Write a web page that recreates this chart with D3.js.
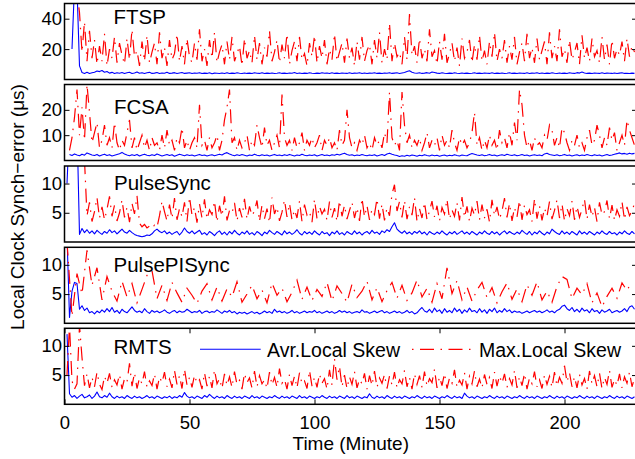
<!DOCTYPE html>
<html><head><meta charset="utf-8">
<script src="https://cdn.jsdelivr.net/npm/d3@7"></script>
<style>body{margin:0;background:#fff}svg{display:block}text{font-family:"Liberation Sans",Arial,sans-serif;fill:#000}</style>
</head><body><svg id="c" width="635" height="459"></svg>
<script>
// ---------- data (µs), one value per step minutes starting at the given start minute ----------
const panelNames = ["FTSP","FCSA","PulseSync","PulsePISync","RMTS"];
const xTicks = [0,50,100,150,200];
const yTicksPerPanel = [[20,40],[10,20],[5,10],[5,10],[5,10]];
const yMaxPerPanel = [50,30,13,13,13];
const legendLabels = ["Avr.Local Skew","Max.Local Skew"];

const ftspAvrStart = 3, ftspMaxStart = 4;
const ftspAvr = [20,62,60,9,4.6,4.0,4.7,3.9,4.4,4.8,
5.6,5.2,5.9,4.8,5.3,4.2,4.7,4.0,4.5,4.1,
4.6,3.9,4.4,4.8,4.0,4.3,5.0,4.1,4.5,3.9,
4.4,4.7,4.0,4.2,4.6,3.9,4.3,4.1,4.8,4.0,
4.2,4.5,3.9,4.3,4.6,4.0,4.2,4.4,3.9,4.3,
4.1,4.5,3.9,4.2,4.0,4.4,3.8,4.2,4.1,3.9,
4.3,4.0,4.5,3.9,4.2,4.0,4.4,4.1,3.9,4.3,
4.0,4.2,3.9,4.4,4.1,4.0,4.5,3.9,4.2,4.0,
4.3,3.9,4.1,4.4,4.0,4.2,3.9,4.3,4.1,4.6,
4.0,4.3,3.9,4.2,4.0,4.4,4.1,3.9,4.2,4.0,
4.5,4.1,4.3,3.9,4.4,4.0,4.2,3.9,4.3,4.1,
4.0,4.4,3.9,4.2,4.1,4.5,4.0,4.3,3.9,4.2,
4.1,4.4,4.0,4.2,3.9,4.3,4.1,4.5,4.0,4.2,
4.4,4.0,4.3,4.6,5.2,5.7,4.8,4.3,4.1,4.4,
4.0,4.2,4.5,4.1,4.9,4.6,4.2,4.0,4.4,4.1,
3.9,4.2,4.0,4.4,4.1,3.9,4.3,4.0,4.2,3.9,
4.1,4.4,4.0,4.2,3.9,4.3,4.1,4.0,4.4,3.9,
4.2,4.0,4.3,3.9,4.1,4.4,4.0,4.2,3.9,4.3,
4.1,4.0,4.4,3.9,4.2,4.1,4.5,4.0,4.3,3.9,
4.2,4.0,4.4,4.1,3.9,4.3,4.0,4.2,3.9,4.4,
4.1,4.0,4.5,4.2,4.9,4.3,4.0,4.2,3.9,4.3,
4.1,4.0,4.4,3.9,4.2,4.1,4.0,4.3,3.9,4.2,
4.4,4.0,4.1,3.9,4.2,4.0];
const ftspMax = [50,58,44,18,38,12,32,14,26,10,
22,12,30,9,20,14,28,11,24,16,
10,27,13,33,15,19,9,25,12,29,
11,18,24,10,31,14,21,9,26,13,
17,30,12,22,10,27,15,11,24,13,
33,12,20,9,26,14,31,11,18,23,
10,25,13,28,12,17,22,9,27,14,
19,11,29,13,24,10,21,15,32,12,
18,26,11,23,14,30,10,19,25,12,
28,13,17,9,24,15,29,11,22,14,
26,10,20,13,30,12,18,24,11,27,
14,21,9,25,13,28,12,19,23,10,
26,14,31,11,20,13,37,12,24,15,
18,10,28,13,43,16,22,11,27,14,
20,12,33,15,19,10,25,13,30,11,
17,24,12,21,9,27,14,18,26,11,
23,13,29,12,19,10,25,15,31,12,
20,14,26,11,22,13,28,10,18,24,
12,30,14,21,11,27,13,19,25,10,
31,14,22,12,33,15,20,11,26,13,
18,24,10,29,14,21,12,27,15,19,
11,28,13,23,10,26,14,20,16,25,
12,27,15,22,18];

const fcsaAvrStart = 2, fcsaMaxStart = 2;
const fcsaAvr = [2.4,2.0,2.6,2.2,1.9,2.5,2.1,3.0,2.6,2.2,
2.0,2.4,1.8,2.2,2.5,2.0,2.3,1.8,2.1,2.4,
2.7,3.2,2.6,2.2,1.9,2.3,2.0,2.4,1.8,2.2,
2.5,2.1,1.9,2.3,2.0,2.6,2.2,1.8,2.1,2.4,
2.0,2.3,1.7,2.1,2.5,2.2,1.9,2.3,2.0,2.2,
1.8,2.1,2.4,2.0,2.2,1.8,2.1,2.3,1.9,2.2,
2.5,2.2,2.8,3.1,2.6,2.2,1.9,2.3,2.0,2.4,
2.1,1.8,2.2,2.0,2.5,2.1,1.9,2.3,2.0,2.2,
1.8,2.1,2.4,2.0,2.2,1.9,2.3,2.0,2.4,2.1,
1.8,2.2,2.0,2.5,2.1,1.9,2.2,2.0,2.3,1.8,
2.1,2.4,2.0,2.2,1.9,2.3,2.1,2.5,2.2,2.6,
2.9,2.4,2.1,2.3,1.9,2.2,2.0,2.4,2.1,1.9,
2.2,2.0,2.3,1.8,2.1,2.4,2.0,2.6,2.9,2.5,
2.2,2.0,1.6,1.9,1.7,2.1,1.8,2.2,2.0,1.7,
2.1,1.9,2.3,2.0,1.8,2.2,1.9,2.1,1.7,2.0,
2.2,1.8,2.1,1.9,2.3,2.0,1.8,2.2,2.0,1.9,
2.4,2.8,2.5,2.2,2.0,2.3,1.9,2.1,2.4,2.0,
2.2,1.8,2.1,2.3,2.0,2.5,2.2,2.0,2.3,1.9,
2.1,2.4,2.0,2.2,1.8,2.1,2.3,2.0,2.2,1.9,
2.6,2.9,2.4,2.2,2.0,2.3,1.9,2.1,2.4,2.0,
2.2,1.8,2.1,2.3,1.9,2.2,2.0,2.4,2.1,1.9,
2.3,2.0,2.2,1.8,2.1,2.4,2.0,2.2,2.5,2.7,
3.0,2.6,2.8,2.5,2.9,2.6,2.8];
const fcsaMax = [4,9,17,28,10,21,8,30,19,7,
11,15,5,8,14,6,9,5,15,7,
4,8,6,11,16,5,9,4,7,10,
5,8,4,9,6,7,4,10,5,12,
6,8,4,9,7,13,5,8,4,7,
9,5,22,6,8,4,9,5,7,10,
4,8,16,21,28,7,9,4,8,5,
7,10,4,8,6,14,9,5,13,6,
8,4,7,10,5,26,9,6,8,4,
9,5,7,11,4,8,6,9,5,7,
10,4,8,6,9,5,7,4,12,6,
8,20,9,5,7,4,8,6,10,5,
7,4,9,6,8,5,11,7,27,9,
6,8,4,27,14,7,10,5,8,6,
9,4,7,11,5,8,6,9,4,10,
6,8,5,12,7,4,9,6,8,5,
7,11,19,6,9,4,8,5,10,6,
8,4,12,7,9,5,11,6,15,8,
28,22,10,5,8,4,9,6,7,5,
10,8,14,12,6,9,5,13,11,7,
4,8,6,10,5,7,4,9,12,6,
8,14,10,5,9,6,13,8,11,4,
7,10,6,16,12,9,6];

const psAvrStart = 1, psMaxStart = 8;
const psAvr = [10,20,20,20,20,1.3,2.3,1.6,2.1,1.5,
1.9,1.4,2.0,1.6,1.3,1.8,1.5,2.1,1.6,1.9,
1.4,1.8,2.2,1.7,1.5,2.0,1.6,1.3,1.1,1.0,
0.9,1.0,1.2,1.1,1.4,1.9,2.2,1.8,1.6,1.9,
1.4,1.7,1.3,1.6,1.8,1.2,1.7,2.4,1.8,1.5,
1.9,1.4,1.7,2.0,1.3,1.6,1.2,1.8,1.5,1.1,
1.6,1.9,1.3,1.7,1.2,1.8,1.4,2.0,1.5,1.2,
1.7,1.4,1.9,1.3,1.6,1.2,1.8,1.5,1.1,1.7,
1.4,2.0,1.6,1.3,1.8,1.5,1.2,1.9,1.4,1.7,
1.3,1.6,2.1,1.5,1.2,1.8,1.4,1.7,1.3,1.9,
1.5,1.2,1.8,1.4,1.6,1.1,1.7,1.4,1.9,1.3,
1.6,1.2,1.8,1.5,1.3,1.9,1.4,1.7,1.2,1.6,
1.8,1.4,2.0,1.5,1.7,1.3,1.9,1.6,2.1,1.8,
2.6,3.3,2.2,1.8,1.5,1.9,1.4,1.7,1.3,1.8,
1.5,1.9,1.4,1.7,1.2,1.8,1.5,1.3,1.7,1.4,
1.9,1.5,1.2,1.7,1.4,1.8,1.3,1.6,1.9,1.4,
1.7,1.3,1.8,1.5,1.2,1.7,1.4,1.9,1.5,1.3,
1.8,1.4,1.7,1.2,1.6,1.9,1.4,1.8,1.5,1.3,
1.7,1.4,2.0,1.6,1.3,1.8,1.2,1.7,1.4,1.9,
1.5,1.2,1.7,1.4,2.2,1.8,1.5,1.3,1.9,1.4,
1.7,1.3,1.8,1.5,1.2,1.9,1.4,1.7,1.3,1.8,
1.5,1.2,1.7,1.4,1.9,1.5,1.3,1.8,1.4,1.6,
1.2,1.7,1.4,1.9,1.5,1.3,1.8,1.4];
const psMax = [14,4.5,6.8,3.5,5.2,7.6,4.1,6.0,3.8,5.6,
7.8,4.4,6.3,3.6,5.0,7.2,4.2,5.9,3.4,6.6,
4.8,7.9,3.2,2.6,3.0,2.4,2.7,2.3,2.9,2.5,
4.5,7.0,5.2,3.6,6.4,4.0,7.5,3.8,5.7,4.3,
6.8,3.5,7.7,4.6,5.9,3.3,6.5,4.1,7.3,3.9,
5.5,4.7,7.0,3.4,6.2,4.4,7.8,3.7,5.4,4.9,
6.7,3.6,5.8,4.2,7.4,3.9,6.1,4.5,5.3,7.1,
3.5,6.3,4.0,5.7,3.3,7.6,4.8,6.0,3.6,5.1,
7.2,4.3,6.6,3.8,5.5,4.1,7.0,3.5,6.4,4.6,
5.2,3.4,7.3,4.0,6.1,4.8,5.6,3.7,6.9,4.2,
5.8,3.5,7.1,4.4,6.3,3.9,5.4,6.8,4.1,5.9,
3.6,7.5,4.3,6.2,3.8,5.6,4.7,7.4,4.0,6.5,
3.7,5.8,4.5,8.2,9.8,5.3,6.9,4.2,7.1,3.9,
6.0,4.6,7.6,3.5,5.7,4.1,6.8,3.8,5.3,7.0,
4.3,6.2,3.6,5.9,4.8,7.3,3.9,5.5,4.4,6.7,
3.7,7.7,4.2,6.1,3.5,5.8,4.6,7.0,3.8,6.4,
4.1,5.6,3.4,7.2,4.5,6.0,3.9,5.3,7.5,4.2,
6.6,3.6,5.9,4.3,7.1,3.8,6.3,4.7,5.5,3.5,
7.4,4.0,6.2,3.7,5.8,4.4,6.9,3.9,5.4,7.2,
4.1,6.5,3.6,5.7,4.5,7.0,3.8,6.1,4.2,5.6,
7.3,3.9,6.4,4.3,5.9,3.5,6.8,4.6,5.2,7.1,
4.0,6.3,3.7,5.5,4.4,6.9,3.8,6.0,4.5,5.3,
6.6];

const ppiAvrStart = 1, ppiMaxStart = 1;
const ppiAvr = [15,1.0,5.5,7.0,6.8,2.4,3.0,2.2,2.6,1.8,
2.0,1.6,2.1,1.8,2.3,1.9,2.5,2.0,2.7,1.9,
2.2,1.7,2.4,2.0,1.8,2.3,2.8,2.2,1.9,2.1,
1.8,2.5,2.0,1.7,2.2,1.9,2.1,1.8,2.0,2.3,
1.9,1.7,2.0,2.2,1.8,2.1,1.9,2.0,2.4,2.1,
1.8,2.0,1.9,2.2,1.7,2.0,2.1,1.8,2.0,1.9,
2.3,2.0,1.7,2.1,1.9,2.2,1.8,2.0,1.6,1.9,
1.7,1.9,1.6,1.8,2.0,1.7,1.9,1.6,1.8,2.1,
1.8,2.0,1.7,2.4,1.9,2.1,1.8,2.0,1.7,1.9,
2.2,1.8,2.0,1.7,1.9,2.1,1.8,2.0,1.9,2.2,
1.8,2.0,1.7,1.9,2.1,1.8,2.0,1.7,1.9,2.2,
1.9,2.1,1.8,2.0,1.7,1.9,2.0,1.8,2.3,1.9,
2.0,1.7,1.9,2.1,1.8,2.0,2.2,1.8,2.0,1.7,
1.9,2.1,1.8,2.0,1.7,1.9,2.2,1.8,2.0,1.6,
1.8,2.3,2.7,2.1,1.9,2.4,1.8,2.6,2.0,2.3,
1.7,2.5,1.9,2.2,1.8,2.6,2.0,2.4,1.7,2.3,
1.9,2.6,2.0,2.2,1.8,2.5,1.9,2.3,1.7,2.4,
2.0,2.6,1.8,2.2,1.9,2.5,2.0,2.3,1.8,2.1,
1.9,2.0,1.7,1.9,2.1,1.8,2.0,2.2,1.9,2.1,
1.8,2.0,2.3,1.9,2.1,1.8,2.2,2.4,2.9,3.1,
2.5,2.2,2.7,2.0,2.4,1.9,2.6,2.1,2.3,1.8,
2.5,2.0,2.2,1.7,2.3,1.9,2.1,2.4,1.8,2.0,
2.2,1.9,2.1,2.5,2.0,2.8,3.0,2.4];
const ppiMaxStep = 2;
const ppiMax = [14,1.2,8.5,5.0,12.5,6.5,9.5,4.0,8.0,5.5,
3.8,7.2,4.5,6.8,3.5,5.8,8.2,9.0,4.2,6.5,
3.9,7.0,5.2,3.6,6.0,4.8,3.4,5.5,6.8,4.0,
6.2,3.8,5.9,4.5,7.1,3.6,5.0,6.5,4.2,5.7,
3.5,6.9,4.8,6.0,3.7,5.3,7.4,4.1,6.2,3.9,
5.8,4.6,7.0,3.8,6.4,5.1,3.6,6.7,4.4,5.5,
7.2,4.0,6.1,3.7,5.6,7.0,4.3,6.5,3.9,5.2,
7.4,4.5,6.0,3.6,6.8,4.2,9.5,5.1,7.3,4.0,
6.2,3.8,5.7,7.0,4.4,6.1,3.5,5.4,6.9,4.1,
5.9,3.7,6.6,4.8,7.1,4.0,5.5,3.6,6.3,8.0,
7.5,4.2,6.0,4.9,6.8,3.5,5.2,2.8,4.6,6.0,
4.3,6.9,5.6,7.2];

const rmtsAvrStart = 1, rmtsMaxStart = 1;
const rmtsAvr = [12,1.8,1.2,1.5,1.0,1.4,1.7,1.1,1.3,1.6,
1.0,1.4,2.1,1.3,1.1,1.5,1.2,1.9,1.3,1.0,
1.4,1.1,1.3,1.0,1.5,1.2,1.0,1.4,1.1,1.3,
1.0,1.2,1.5,1.1,1.3,1.0,1.4,1.2,1.0,1.3,
1.1,1.4,1.0,1.3,1.1,1.5,1.2,2.0,1.4,1.1,
1.3,1.0,1.4,1.2,1.0,1.5,1.2,1.7,1.3,1.0,
1.4,1.1,1.3,1.0,1.5,1.2,1.0,1.4,1.1,1.3,
1.0,1.4,1.2,1.0,1.5,1.1,1.3,1.0,1.4,1.2,
1.0,1.3,1.1,1.5,1.2,1.0,1.4,1.1,1.3,1.0,
1.4,1.2,1.0,1.5,1.1,1.3,1.0,1.4,1.2,1.0,
1.3,1.1,1.5,1.2,1.0,1.4,1.1,1.3,1.0,1.4,
1.2,1.0,1.5,1.1,1.3,1.0,1.4,1.2,1.0,1.3,
1.1,1.8,1.2,1.0,1.4,1.1,1.3,1.0,1.5,1.2,
1.0,1.4,1.1,1.3,1.0,1.4,1.2,1.0,1.3,1.1,
1.5,1.2,1.0,1.4,1.1,1.3,1.0,1.4,1.2,1.0,
1.3,1.1,1.5,1.2,1.0,1.4,1.1,1.3,1.0,1.9,
1.4,1.1,1.3,1.0,1.4,1.2,1.0,1.3,1.1,1.5,
1.2,1.0,1.4,1.1,1.3,1.0,1.4,1.2,1.0,1.3,
1.1,1.5,1.2,1.0,1.4,1.1,1.3,1.0,1.4,1.2,
1.0,1.3,1.1,1.5,1.2,1.0,1.4,1.1,1.3,1.0,
1.4,1.2,1.0,1.3,1.1,1.5,1.2,1.0,1.4,1.1,
1.3,1.0,1.4,1.2,1.0,1.3,1.1,1.5,1.2,1.0,
1.4,1.1,1.3,1.0,1.4,1.2,1.0,1.3];
const rmtsMax = [5.0,13.5,4.0,2.6,3.5,13.5,8.0,3.2,5.2,2.8,
4.6,3.0,5.5,3.4,2.5,4.8,3.6,5.3,2.9,4.2,
3.3,5.1,2.6,4.4,3.8,7.0,3.1,5.4,2.7,4.5,
3.5,5.6,2.9,4.0,3.2,5.2,2.6,4.7,3.7,5.5,
3.0,4.3,2.8,5.8,3.4,4.9,2.7,6.0,3.3,4.6,
2.9,5.0,3.6,4.2,2.6,5.4,3.1,4.8,2.8,5.9,
3.5,4.4,2.7,5.2,3.2,4.7,2.9,5.6,3.4,4.1,
2.6,5.3,3.7,4.5,2.8,5.7,3.0,4.9,3.5,4.2,
2.7,5.5,3.3,4.6,2.9,6.1,3.6,4.3,2.6,5.1,
3.2,4.8,2.8,5.4,3.5,4.0,2.7,5.8,3.1,4.6,
2.9,5.2,3.6,4.4,2.6,5.9,3.3,7.8,4.2,6.5,
3.0,5.0,2.7,4.7,3.4,5.6,2.8,4.3,3.5,5.3,
2.6,4.9,3.2,5.7,2.9,4.5,3.6,5.1,2.7,4.8,
3.3,5.5,2.8,4.2,3.5,5.8,3.0,4.6,2.6,5.2,
3.4,4.9,2.9,5.6,3.1,4.4,3.7,6.0,2.8,4.7,
3.2,5.3,2.7,4.5,3.6,5.9,2.9,4.1,3.3,5.4,
2.6,4.8,3.5,5.7,3.0,4.3,2.8,5.1,3.4,4.6,
2.7,5.5,3.1,4.9,3.6,5.2,2.9,4.4,3.3,5.8,
2.8,4.7,3.2,5.3,2.6,4.5,3.5,5.6,3.0,4.2,
2.7,5.0,3.4,4.8,2.9,5.5,3.1,4.6,3.6,6.6,
3.8,5.4,3.0,4.7,2.8,5.1,3.3,4.4,2.6,5.7,
3.5,4.9,3.0,5.3,2.7,4.6,3.4,5.8,2.9,4.3,
3.2,5.2,2.8,4.7,3.6,5.5,3.0,4.5];

// ---------- table built from the arrays ----------
const series = [
  {avr: ftspAvr, avrStart: ftspAvrStart, avrStep: 1, max: ftspMax, maxStart: ftspMaxStart, maxStep: 1},
  {avr: fcsaAvr, avrStart: fcsaAvrStart, avrStep: 1, max: fcsaMax, maxStart: fcsaMaxStart, maxStep: 1},
  {avr: psAvr, avrStart: psAvrStart, avrStep: 1, max: psMax, maxStart: psMaxStart, maxStep: 1},
  {avr: ppiAvr, avrStart: ppiAvrStart, avrStep: 1, max: ppiMax, maxStart: ppiMaxStart, maxStep: ppiMaxStep},
  {avr: rmtsAvr, avrStart: rmtsAvrStart, avrStep: 1, max: rmtsMax, maxStart: rmtsMaxStart, maxStep: 1}
];

// ---------- layout ----------
const svg = d3.select("#c");
const xLeft = 64.5, xRight = 637;
const panelTops = [3.5, 84.5, 166, 247.3, 328.3];
const panelH = 76;
const labelPos = [[113.5,23.5],[114,113.5],[114,189.5],[113.5,271.5],[113.5,353.5]];
const FONT = '"Liberation Sans", Arial, sans-serif';
const BLUE = "#0000ff", RED = "#ff0000";
const DASH = "14,6.5,1.5,6.5";

const x = d3.scaleLinear().domain([0, 229]).range([xLeft, xRight]);
const defs = svg.append("defs");

series.forEach((s, i) => {
  const top = panelTops[i], bot = top + panelH;
  const y = d3.scaleLinear().domain([0, yMaxPerPanel[i]]).range([bot, top]);
  const g = svg.append("g");
  const clipId = "clip" + i;
  defs.append("clipPath").attr("id", clipId).append("rect")
    .attr("x", xLeft).attr("y", top).attr("width", xRight - xLeft).attr("height", panelH);

  const line = d3.line().x(d => x(d[0])).y(d => y(d[1]));
  const avrPts = s.avr.map((v, k) => [s.avrStart + k * s.avrStep, v]);
  const maxPts = s.max.map((v, k) => [s.maxStart + k * s.maxStep, v]);

  const data = g.append("g").attr("clip-path", `url(#${clipId})`);
  data.append("path").attr("d", line(avrPts)).attr("fill", "none")
    .attr("stroke", BLUE).attr("stroke-width", 1.1).attr("stroke-linejoin", "round");
  data.append("path").attr("d", line(maxPts)).attr("fill", "none")
    .attr("stroke", RED).attr("stroke-width", 1.2).attr("stroke-dasharray", DASH);

  // left axis (ticks inside)
  const yl = g.append("g").attr("transform", `translate(${xLeft},0)`)
    .call(d3.axisLeft(y).tickValues(yTicksPerPanel[i]).tickSize(-5).tickPadding(2.5));
  yl.select(".domain").remove();
  yl.selectAll("line").attr("stroke", "#000").attr("stroke-width", 1);
  yl.selectAll("text").attr("font-family", FONT).attr("font-size", 18.5).attr("fill", "#000");
  // right axis
  const yr = g.append("g").attr("transform", `translate(${xRight},0)`)
    .call(d3.axisRight(y).tickValues(yTicksPerPanel[i]).tickSize(-5).tickFormat(""));
  yr.select(".domain").remove();
  yr.selectAll("line").attr("stroke", "#000");

  if (i === series.length - 1) {
    const xb = g.append("g").attr("transform", `translate(0,${bot})`)
      .call(d3.axisBottom(x).tickValues(xTicks).tickSize(-5).tickPadding(12));
    xb.select(".domain").remove();
    xb.selectAll("line").attr("stroke", "#000");
    xb.selectAll("text").attr("font-family", FONT).attr("font-size", 18.5).attr("fill", "#000");
    const xt = g.append("g").attr("transform", `translate(0,${top})`)
      .call(d3.axisTop(x).tickValues(xTicks).tickSize(-5).tickFormat(""));
    xt.select(".domain").remove();
    xt.selectAll("line").attr("stroke", "#000");
  }

  g.append("rect").attr("x", xLeft).attr("y", top).attr("width", xRight - xLeft).attr("height", panelH)
    .attr("fill", "none").attr("stroke", "#000").attr("stroke-width", 1.5);

  g.append("text").attr("x", labelPos[i][0]).attr("y", labelPos[i][1])
    .attr("font-size", 20.5).attr("font-family", FONT).text(panelNames[i]);
});

// legend (in last panel)
const lg = svg.append("g");
lg.append("line").attr("x1", 200).attr("x2", 260.7).attr("y1", 349.3).attr("y2", 349.3)
  .attr("stroke", BLUE).attr("stroke-width", 1.1);
lg.append("text").attr("x", 267).attr("y", 356.7).attr("font-size", 19.5).attr("font-family", FONT).text(legendLabels[0]);
lg.append("line").attr("x1", 412).attr("x2", 472).attr("y1", 349.3).attr("y2", 349.3)
  .attr("stroke", RED).attr("stroke-width", 1.2).attr("stroke-dasharray", "1.5,6.5,14,6.5");
lg.append("text").attr("x", 479).attr("y", 356.7).attr("font-size", 19.5).attr("font-family", FONT).text(legendLabels[1]);

// axis titles
svg.append("text").attr("x", (xLeft + xRight) / 2).attr("y", 450).attr("text-anchor", "middle")
  .attr("font-size", 19).attr("font-family", FONT).text("Time (Minute)");
svg.append("text").attr("transform", "translate(24,207) rotate(-90)").attr("text-anchor", "middle")
  .attr("font-size", 19).attr("font-family", FONT).text("Local Clock Synch\u2212error (\u03bcs)");
</script>
</body></html>
